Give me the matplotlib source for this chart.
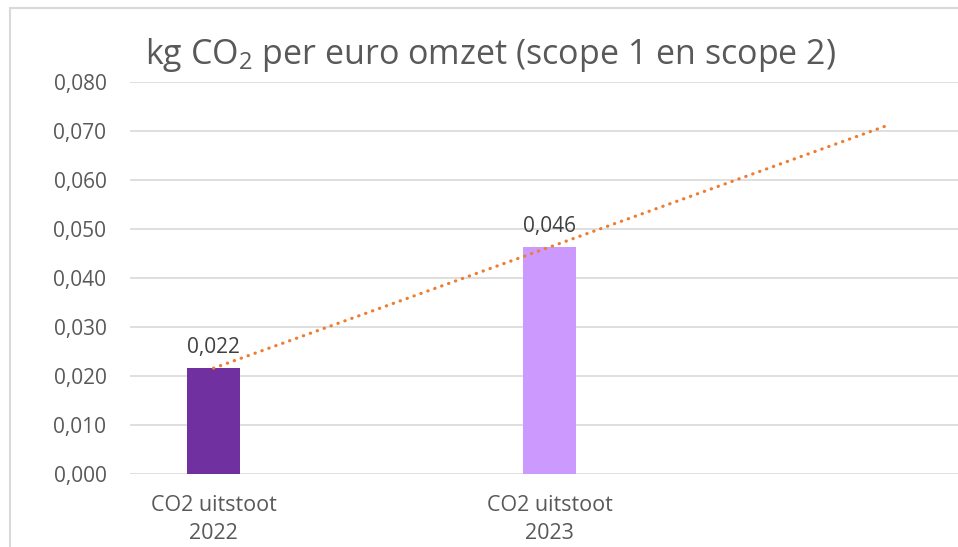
import matplotlib
matplotlib.use("Agg")
import matplotlib.pyplot as plt
from matplotlib.patches import Rectangle
import numpy as np

plt.rcParams['font.family'] = ['Open Sans', 'DejaVu Sans']
plt.rcParams['mathtext.fontset'] = 'custom'
plt.rcParams['mathtext.rm'] = 'Open Sans'

# data
categories = ['CO2 uitstoot\n2022', 'CO2 uitstoot\n2023']
values = [0.0216, 0.0463]
labels = ['0,022', '0,046']
bar_colors = ['#7030A0', '#CC99FF']
yticks = [0.0, 0.01, 0.02, 0.03, 0.04, 0.05, 0.06, 0.07, 0.08]
forecast = 1  # trendline forward periods

fig = plt.figure(figsize=(9.58, 5.47), dpi=100)
ax = fig.add_axes([130 / 958, 1 - 474 / 547, 1 - 130 / 958, (474 - 82) / 547])

x = np.arange(len(categories))
ax.bar(x, values, width=53 / 336, color=bar_colors, zorder=3)

# linear trendline with forward forecast
k, b = np.polyfit(x, values, 1)
xt = np.array([0, len(categories) - 1 + forecast])
ax.plot(xt, k * xt + b, color='#ED7D31', lw=2.3, linestyle=(0, (0.1, 2.2)),
        dash_capstyle='round', zorder=4)

for xi, v, s in zip(x, values, labels):
    ax.annotate(s, (xi, v), xytext=(0, 7), textcoords='offset points',
                ha='center', va='bottom', fontsize=15, color='#404040')

ax.set_xlim((130 - 213.5) / 336, (958 - 213.5) / 336)
ax.set_ylim(0, 0.08)
ax.set_yticks(yticks)
ax.set_yticklabels([('%.3f' % t).replace('.', ',') for t in yticks])
ax.set_xticks(x)
ax.set_xticklabels(categories, linespacing=1.45, fontsize=15.5)
ax.tick_params(axis='both', length=0, colors='#595959')
ax.tick_params(axis='y', labelsize=15, pad=17)
ax.tick_params(axis='x', pad=15)
ax.grid(axis='y', color='#D9D9D9', lw=1.2, zorder=0)
for sp in ax.spines.values():
    sp.set_visible(False)

fig.text(490 / 958, 1 - 55 / 547, r'kg CO$_\mathregular{2}$ per euro omzet (scope 1 en scope 2)',
         ha='center', va='center', fontsize=24.5, color='#595959')

# chart area border
fig.patches.append(Rectangle((10 / 958, -0.1), 1.2, 1 - 8 / 547 + 0.1,
                             transform=fig.transFigure, fill=False,
                             edgecolor='#D9D9D9', lw=1.5))

fig.savefig('out.png', dpi=100)
